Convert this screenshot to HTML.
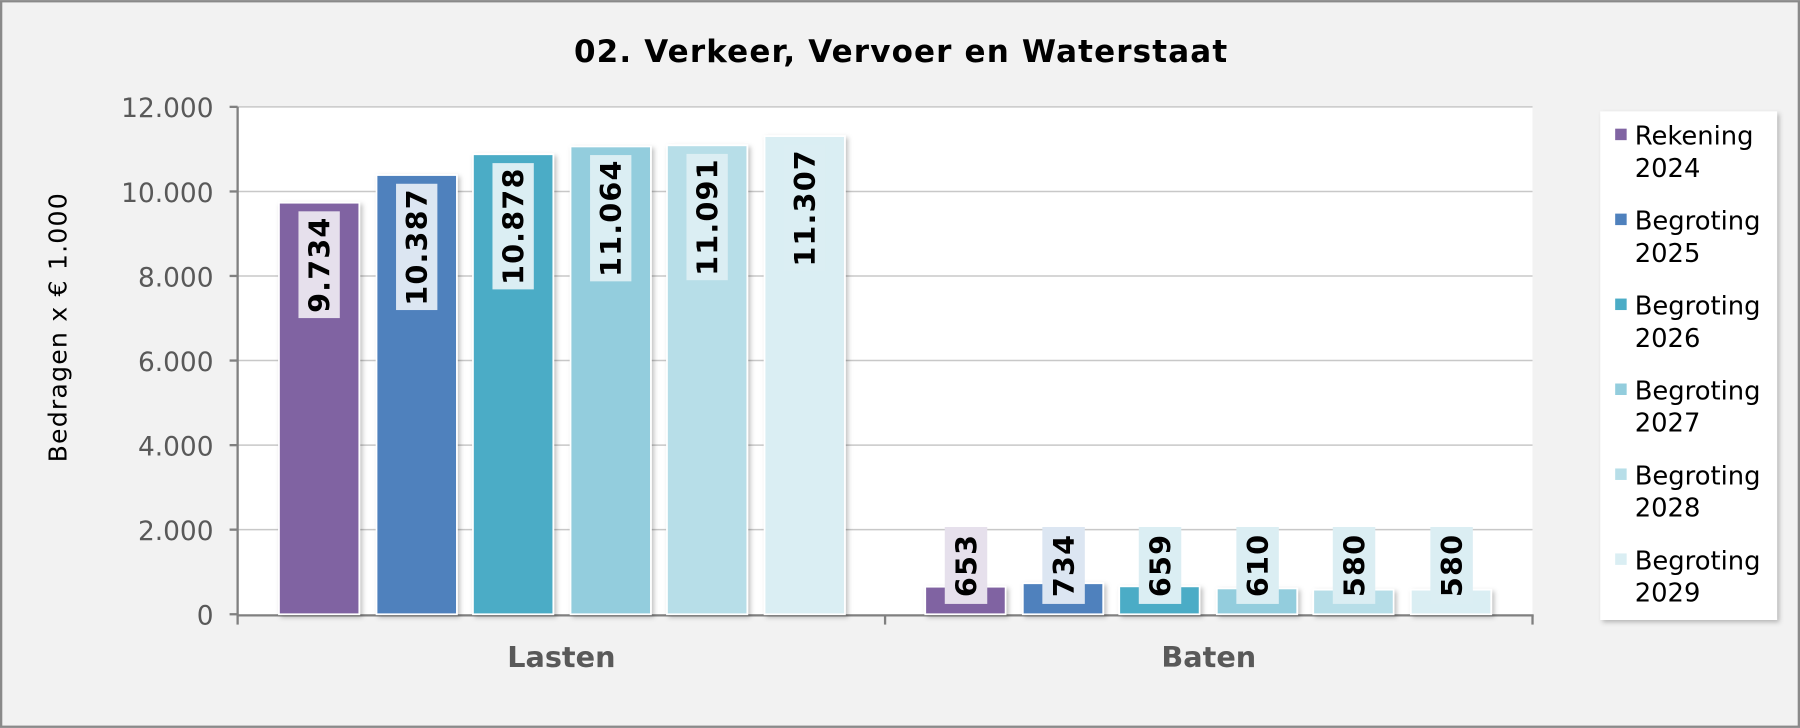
<!DOCTYPE html>
<html><head><meta charset="utf-8"><style>
html,body{margin:0;padding:0;background:#f2f2f2;}
svg{display:block;}
text{font-family:"DejaVu Sans","Liberation Sans",sans-serif;}
</style></head><body>
<svg width="1800" height="728" viewBox="0 0 1568 634" xmlns="http://www.w3.org/2000/svg">
<defs>
<filter id="sh" x="-20%" y="-5%" width="140%" height="115%"><feDropShadow dx="2" dy="2" stdDeviation="2" flood-color="#000" flood-opacity="0.25"/></filter>
</defs>
<rect x="1" y="1" width="1566" height="632" fill="#f2f2f2" stroke="#8a8a8a" stroke-width="2"/>
<text x="785" y="54" text-anchor="middle" font-size="27" font-weight="bold" fill="#000" letter-spacing="1">02. Verkeer, Vervoer en Waterstaat</text>
<rect x="207" y="93" width="1128" height="442" fill="#fff"/>
<g stroke="#c8c8c8" stroke-width="1.3">
<line x1="207" y1="93" x2="1335" y2="93"/>
<line x1="207" y1="166.7" x2="1335" y2="166.7"/>
<line x1="207" y1="240.3" x2="1335" y2="240.3"/>
<line x1="207" y1="314" x2="1335" y2="314"/>
<line x1="207" y1="387.7" x2="1335" y2="387.7"/>
<line x1="207" y1="461.3" x2="1335" y2="461.3"/>
</g>
<g stroke="#808080" stroke-width="2">
<line x1="207" y1="93" x2="207" y2="536"/>
<line x1="206" y1="536" x2="1336" y2="536"/>
<line x1="200" y1="93" x2="207" y2="93"/><line x1="200" y1="166.7" x2="207" y2="166.7"/><line x1="200" y1="240.3" x2="207" y2="240.3"/><line x1="200" y1="314" x2="207" y2="314"/><line x1="200" y1="387.7" x2="207" y2="387.7"/><line x1="200" y1="461.3" x2="207" y2="461.3"/><line x1="200" y1="535" x2="207" y2="535"/>
<line x1="207" y1="536" x2="207" y2="544"/><line x1="771" y1="536" x2="771" y2="544"/><line x1="1335" y1="536" x2="1335" y2="544"/>
</g>
<g font-size="23" fill="#595959" text-anchor="end">
<text x="186" y="102">12.000</text><text x="186" y="175.7">10.000</text><text x="186" y="249.3">8.000</text><text x="186" y="323">6.000</text><text x="186" y="396.7">4.000</text><text x="186" y="470.3">2.000</text><text x="186" y="544">0</text>
</g>
<text transform="translate(58,285) rotate(-90)" text-anchor="middle" font-size="22" fill="#000" letter-spacing="1">Bedragen x € 1.000</text>
<g font-size="25" font-weight="bold" fill="#595959" text-anchor="middle">
<text x="489" y="581">Lasten</text><text x="1053" y="581">Baten</text>
</g>
<g filter="url(#sh)" stroke="#fff" stroke-width="1.5">
<rect x="243" y="176.5" width="70" height="358.5" fill="#8064A2"/>
<rect x="328" y="152.4" width="70" height="382.6" fill="#4F81BD"/>
<rect x="412" y="134.3" width="70" height="400.7" fill="#4BACC6"/>
<rect x="497" y="127.5" width="70" height="407.5" fill="#93CDDD"/>
<rect x="581" y="126.5" width="70" height="408.5" fill="#B7DEE8"/>
<rect x="666" y="118.5" width="70" height="416.5" fill="#DAEEF3"/>
<rect x="806" y="511" width="70" height="24" fill="#8064A2"/>
<rect x="891" y="508" width="70" height="27" fill="#4F81BD"/>
<rect x="975" y="510.7" width="70" height="24.3" fill="#4BACC6"/>
<rect x="1060" y="512.5" width="70" height="22.5" fill="#93CDDD"/>
<rect x="1144" y="513.6" width="70" height="21.4" fill="#B7DEE8"/>
<rect x="1229" y="513.6" width="70" height="21.4" fill="#DAEEF3"/>
</g>
<g>
<rect x="260" y="184" width="36" height="93" fill="#E6E0EC"/>
<rect x="345" y="160" width="36" height="110" fill="#DCE6F2"/>
<rect x="429" y="142" width="36" height="110" fill="#DBEEF3"/>
<rect x="514" y="135" width="36" height="110" fill="#DBEEF3"/>
<rect x="598" y="134" width="36" height="110" fill="#DBEEF3"/>
<rect x="683" y="126" width="36" height="110" fill="#DBEEF3"/>
<rect x="823" y="459" width="37" height="67" fill="#E6E0EC"/>
<rect x="908" y="459" width="37" height="67" fill="#DCE6F2"/>
<rect x="992" y="459" width="37" height="67" fill="#DBEEF3"/>
<rect x="1077" y="459" width="37" height="67" fill="#DBEEF3"/>
<rect x="1161" y="459" width="37" height="67" fill="#DBEEF3"/>
<rect x="1246" y="459" width="37" height="67" fill="#DBEEF3"/>
</g>
<g font-size="25" font-weight="bold" fill="#000" text-anchor="middle" letter-spacing="1">
<text transform="translate(287,230.5) rotate(-90)">9.734</text>
<text transform="translate(372,215) rotate(-90)">10.387</text>
<text transform="translate(456,197) rotate(-90)">10.878</text>
<text transform="translate(541,190) rotate(-90)">11.064</text>
<text transform="translate(625,189) rotate(-90)">11.091</text>
<text transform="translate(710,181) rotate(-90)">11.307</text>
<text transform="translate(850.5,492.5) rotate(-90)">653</text>
<text transform="translate(935.5,492.5) rotate(-90)">734</text>
<text transform="translate(1019.5,492.5) rotate(-90)">659</text>
<text transform="translate(1104.5,492.5) rotate(-90)">610</text>
<text transform="translate(1188.5,492.5) rotate(-90)">580</text>
<text transform="translate(1273.5,492.5) rotate(-90)">580</text>
</g>
<rect x="1394" y="97" width="154" height="443" fill="#fff" filter="url(#sh)"/>
<g font-size="22.5" fill="#000">
<rect x="1407" y="112" width="10" height="10" fill="#8064A2"/><text x="1424" y="126">Rekening</text><text x="1424" y="154">2024</text>
<rect x="1407" y="186" width="10" height="10" fill="#4F81BD"/><text x="1424" y="200">Begroting</text><text x="1424" y="228">2025</text>
<rect x="1407" y="260" width="10" height="10" fill="#4BACC6"/><text x="1424" y="274">Begroting</text><text x="1424" y="302">2026</text>
<rect x="1407" y="334" width="10" height="10" fill="#93CDDD"/><text x="1424" y="348">Begroting</text><text x="1424" y="376">2027</text>
<rect x="1407" y="408" width="10" height="10" fill="#B7DEE8"/><text x="1424" y="422">Begroting</text><text x="1424" y="450">2028</text>
<rect x="1407" y="482" width="10" height="10" fill="#DAEEF3"/><text x="1424" y="496">Begroting</text><text x="1424" y="524">2029</text>
</g>
</svg>
</body></html>
